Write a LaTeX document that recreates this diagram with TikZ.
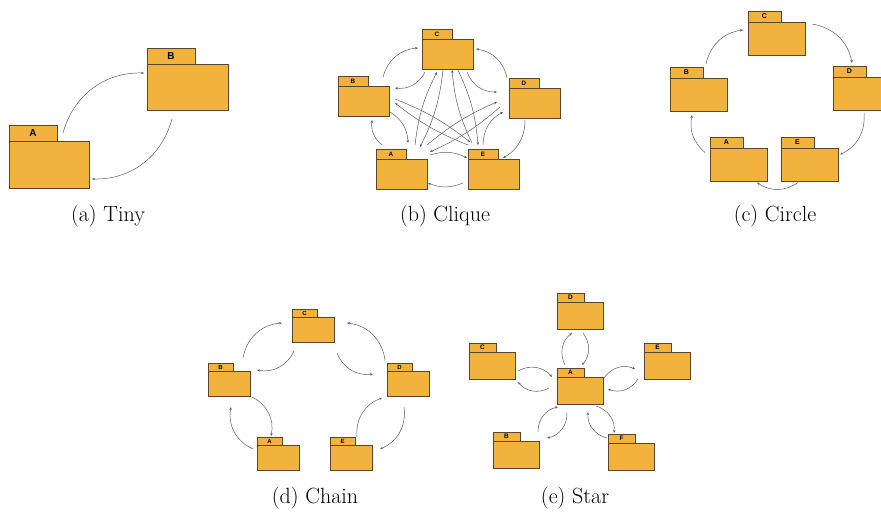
\documentclass[tikz,border=0pt]{standalone}
\usepackage{fontspec}
\usetikzlibrary{arrows.meta}
\newfontfamily\pkgfont{Liberation Sans}

\definecolor{pkgfill}{HTML}{F2B23E}
\definecolor{pkgedge}{HTML}{5A4628}
\definecolor{linkgray}{HTML}{5E5E5E}

% a UML package: body node #1 with its tab #1tab carrying label #2
% #3,#4 top-left corner of the body, #5x#6 body size, #7x#8 tab size
\newcommand{\pkgbox}[8]{%
  \node[pkgbody, minimum width=#5pt, minimum height=#6pt, anchor=north west] (#1) at (#3,#4) {};
  \node[pkgtab, minimum width=#7pt, minimum height=#8pt, anchor=south west] (#1tab) at (#1.north west) {#2};
}
% a bent dependency arrow between two packages, ends given as offsets from the body centres
\newcommand{\link}[5]{%
  \draw[arr] ([shift={(#2)}]#1.center) to[#5] ([shift={(#4)}]#3.center);
}

\begin{document}
\begin{tikzpicture}[x=1pt, y=-1pt,
  pkgbody/.style={draw=pkgedge, fill=pkgfill, line width=0.8pt, inner sep=0pt, outer sep=0pt},
  pkgtab/.style={draw=pkgedge, fill=pkgfill, line width=0.8pt, inner sep=0pt, outer sep=0pt,
                 font=\pkgfont\bfseries\fontsize{6.5}{7}\selectfont},
  arr/.style={draw=linkgray, line width=0.5pt, -{Stealth[length=3pt,width=2.4pt]}},
  caption/.style={anchor=base, font=\fontsize{22}{26}\selectfont, inner sep=0pt}]
\useasboundingbox (0,0) rectangle (881,512);

% ---------- (a) Tiny ----------
\begin{scope}[pkgtab/.append style={font=\pkgfont\bfseries\fontsize{10}{11}\selectfont}]
\pkgbox{aA}{A}{9}{141}{80}{47}{48}{16}
\pkgbox{aB}{B}{147}{64}{81}{46}{48}{16}
\end{scope}
\link{aA}{14,-31.5}{aB}{-43.5,-14}{bend left=38}
\link{aB}{-15.5,32}{aA}{43,14.5}{bend left=38}
\node[caption] (capa) at (108,221) {(a) Tiny};

% ---------- (b) Clique ----------
\begin{scope}[pkgtab/.append style={font=\pkgfont\bfseries\fontsize{6.3}{7}\selectfont}]
\pkgbox{bC}{C}{422}{39}{51}{30}{30}{10}
\pkgbox{bB}{B}{338}{86}{51}{30}{30}{10}
\pkgbox{bD}{D}{509}{88}{51}{30}{30}{10}
\pkgbox{bA}{A}{376}{159}{51}{30}{30}{10}
\pkgbox{bE}{E}{468}{159}{51}{30}{30}{10}
\end{scope}
% neighbours
\link{bB}{19.5,-24}{bC}{-29.5,-6}{bend left=35}
\link{bC}{-22.5,18}{bB}{31.5,-13}{bend left=35}
\link{bC}{19.5,18}{bD}{-37.5,-11}{bend right=35}
\link{bD}{-27.5,-25}{bC}{28.5,-5}{bend right=35}
\link{bB}{26.5,11}{bA}{6.5,-31}{bend left=28}
\link{bA}{-19.5,-29}{bB}{8.5,19}{bend left=28}
\link{bD}{-9.5,17}{bE}{9.5,-16}{bend left=30}
\link{bE}{-10.5,-29}{bD}{-31.5,9}{bend left=30}
\link{bA}{28.5,-19}{bE}{-26.5,-16}{bend left=22}
\link{bE}{-30.5,9}{bA}{26.5,9}{bend left=22}
% diagonals
\link{bA}{13.5,-29}{bC}{-10.5,18}{bend left=10}
\link{bC}{-4.5,16}{bA}{18.5,-27}{bend left=10}
\link{bC}{10.5,16}{bE}{-15.5,-29}{bend left=10}
\link{bE}{-21.5,-31}{bC}{4.5,16}{bend left=10}
\link{bB}{31.5,-2}{bE}{-23.5,-32}{bend left=8}
\link{bE}{-25.5,-29}{bB}{31.5,2}{bend left=8}
\link{bA}{25.5,-29}{bD}{-37.5,-1}{bend left=8}
\link{bD}{-34.5,4}{bA}{28.5,-22}{bend left=8}
\node[caption] (capb) at (445,221) {(b) Clique};

% ---------- (c) Circle ----------
\begin{scope}[pkgtab/.append style={font=\pkgfont\bfseries\fontsize{7}{8}\selectfont}]
\pkgbox{cC}{C}{748}{22}{57}{33}{33}{11}
\pkgbox{cB}{B}{670}{78}{57}{33}{33}{11}
\pkgbox{cD}{D}{833}{77}{57}{33}{33}{11}
\pkgbox{cA}{A}{710}{148}{57}{33}{33}{11}
\pkgbox{cE}{E}{781}{148}{57}{33}{33}{11}
\end{scope}
\link{cA}{-33.5,-12}{cB}{-6.5,20.5}{bend left=30}
\link{cB}{7.5,-30.5}{cC}{-33.5,-8.5}{bend left=35}
\link{cC}{35.5,-14.5}{cD}{-9.5,-30.5}{bend left=35}
\link{cD}{2.5,19.5}{cE}{30.5,-10}{bend left=35}
\link{cE}{-11.5,18}{cA}{18.5,18}{bend left=35}
\node[caption] (capc) at (775,221) {(c) Circle};

% ---------- (d) Chain ----------
\begin{scope}[pkgtab/.append style={font=\pkgfont\bfseries\fontsize{6}{7}\selectfont}]
\pkgbox{dC}{C}{292}{317}{42}{25}{25}{8}
\pkgbox{dB}{B}{208}{371}{42}{25}{25}{8}
\pkgbox{dD}{D}{387}{371}{42}{25}{25}{8}
\pkgbox{dA}{A}{257}{445}{42}{25}{25}{8}
\pkgbox{dE}{E}{330}{445}{42}{25}{25}{8}
\end{scope}
\link{dB}{14,-25.5}{dC}{-31,-6.5}{bend left=38}
\link{dC}{-19,21.5}{dB}{28,-13.5}{bend left=38}
\link{dC}{24,23.5}{dD}{-35,-9.5}{bend right=38}
\link{dD}{-23,-23.5}{dC}{34,-6.5}{bend right=38}
\link{dB}{23,13.5}{dA}{-7,-21.5}{bend left=38}
\link{dA}{-25,-8.5}{dB}{2,23.5}{bend left=38}
\link{dD}{-4,23.5}{dE}{29,-8.5}{bend left=38}
\link{dE}{6,-20.5}{dD}{-26,14.5}{bend left=38}
\node[caption] (capd) at (315,503) {(d) Chain};

% ---------- (e) Star ----------
\begin{scope}[pkgtab/.append style={font=\pkgfont\bfseries\fontsize{6.5}{7}\selectfont}]
\pkgbox{eD}{D}{557}{302}{46}{27}{27}{9}
\pkgbox{eC}{C}{469}{352}{46}{27}{27}{9}
\pkgbox{eE}{E}{644}{352}{46}{27}{27}{9}
\pkgbox{eA}{A}{557}{377}{46}{27}{27}{9}
\pkgbox{eB}{B}{493}{441}{46}{27}{27}{9}
\pkgbox{eF}{F}{608}{443}{46}{27}{27}{9}
\end{scope}
\link{eA}{-15,-25.5}{eD}{-8,17.5}{bend left=40}
\link{eD}{3,17.5}{eA}{2,-25.5}{bend left=40}
\link{eC}{26,5.5}{eA}{-28,-13.5}{bend left=40}
\link{eA}{-31,-2.5}{eC}{26,16.5}{bend left=40}
\link{eA}{24,-12.5}{eE}{-32,3.5}{bend left=40}
\link{eE}{-29,13.5}{eA}{28,-1.5}{bend left=40}
\link{eB}{22,-22.5}{eA}{-22,16.5}{bend left=40}
\link{eA}{-13,22.5}{eB}{31,-16.5}{bend left=40}
\link{eA}{16,15.5}{eF}{-17,-23.5}{bend left=40}
\link{eF}{-24,-18.5}{eA}{8,21.5}{bend left=40}
\node[caption] (cape) at (575,503) {(e) Star};
\end{tikzpicture}
\end{document}
